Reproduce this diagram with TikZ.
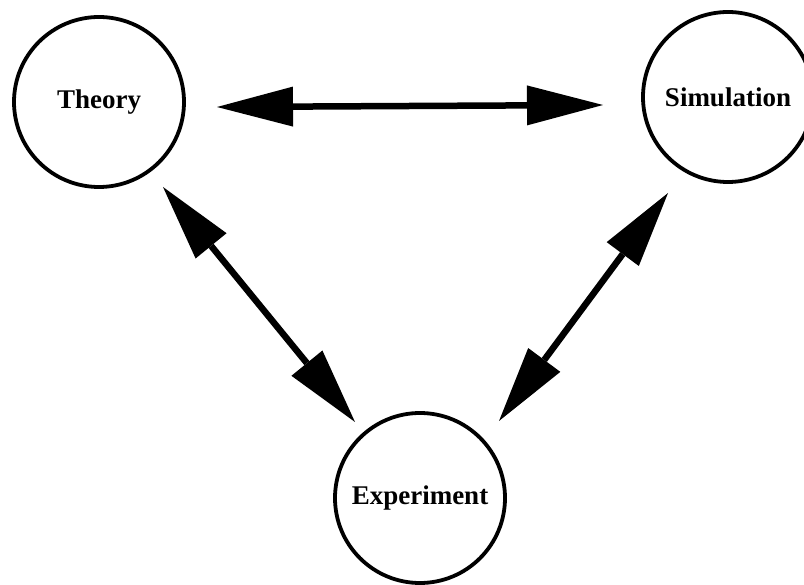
\documentclass[tikz,border=0pt]{standalone}
\usepackage{fontspec}
\setmainfont{Liberation Serif}
\usetikzlibrary{arrows.meta}
\begin{document}
\begin{tikzpicture}[x=1pt,y=1pt,
  circ/.style={circle,draw,line width=3.8pt,minimum size=170pt,inner sep=0pt,
    font=\fontsize{27}{30}\selectfont\bfseries},
  link/.style={line width=6.5pt,
    {Triangle[length=76pt,width=40pt,line width=0pt]}-{Triangle[length=76pt,width=40pt,line width=0pt]}}]
\useasboundingbox (0,0) rectangle (804,-585);
\node[circ] (theory) at (99,-102) {Theory};
\node[circ] (sim) at (728,-97) {Simulation};
\node[circ] (exp) at (420,-498) {Experiment};
\coordinate (ts) at (217,-107);
\coordinate (st) at (603,-105);
\coordinate (te) at (163,-187);
\coordinate (et) at (355,-422);
\coordinate (se) at (668,-193);
\coordinate (es) at (499,-421);
\draw[link] (ts) -- (st);
\draw[link] (te) -- (et);
\draw[link] (se) -- (es);
\end{tikzpicture}
\end{document}
